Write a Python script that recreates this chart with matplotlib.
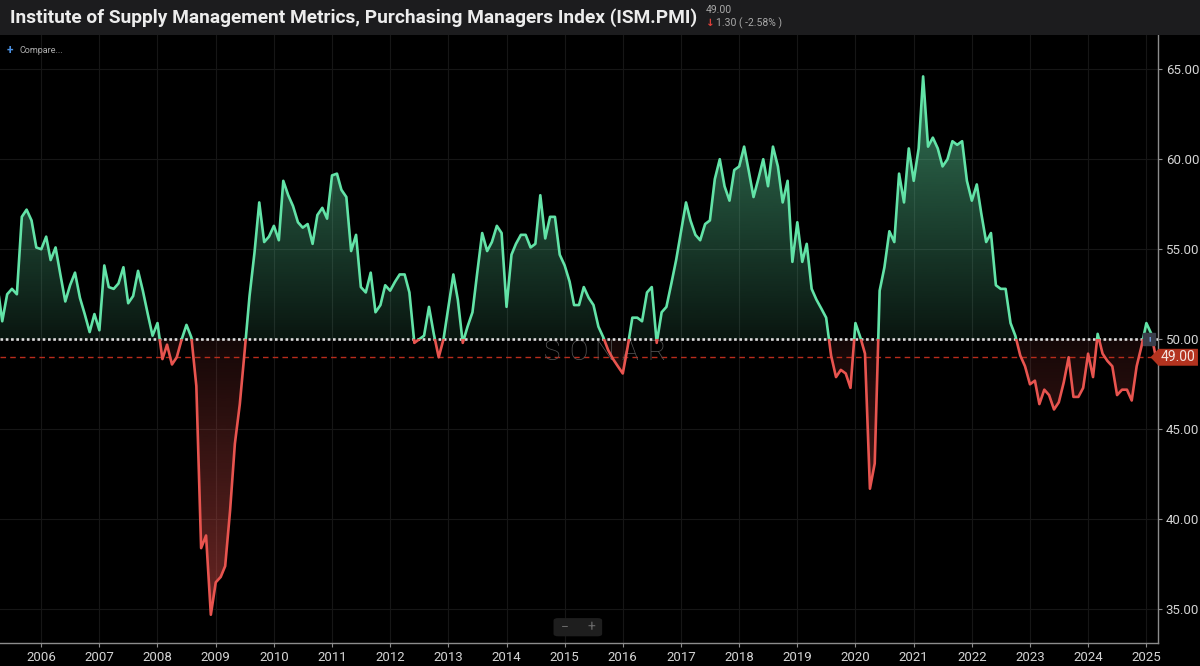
import numpy as np
import pandas as pd
import matplotlib
matplotlib.use("Agg")
import matplotlib.pyplot as plt
import matplotlib.dates as mdates
from matplotlib.path import Path
from matplotlib.patches import Rectangle, Polygon, FancyBboxPatch
from matplotlib.transforms import blended_transform_factory
from matplotlib.ticker import FormatStrFormatter

plt.rcParams["font.family"] = ["Roboto", "DejaVu Sans"]

# ISM PMI, monthly values (Apr 2005 - Mar 2025)
pmi_2005 = [53.0, 51.0, 52.5, 52.8, 52.5, 56.8, 57.2, 56.6, 55.1]
pmi_2006 = [55.0, 55.7, 54.4, 55.1, 53.6, 52.1, 53.0, 53.7, 52.3, 51.4, 50.4, 51.4]
pmi_2007 = [50.5, 54.1, 52.9, 52.8, 53.1, 54.0, 52.0, 52.4, 53.8, 52.7, 51.4, 50.2]
pmi_2008 = [50.9, 48.9, 49.7, 48.6, 49.0, 50.0, 50.8, 50.1, 47.4, 38.4, 39.1, 34.7]
pmi_2009 = [36.5, 36.8, 37.4, 40.5, 44.2, 46.4, 49.3, 52.4, 54.8, 57.6, 55.4, 55.7]
pmi_2010 = [56.3, 55.5, 58.8, 58.0, 57.4, 56.5, 56.2, 56.4, 55.3, 56.9, 57.3, 56.7]
pmi_2011 = [59.1, 59.2, 58.3, 57.9, 54.9, 55.8, 52.9, 52.6, 53.7, 51.5, 51.9, 53.0]
pmi_2012 = [52.7, 53.2, 53.6, 53.6, 52.6, 49.8, 50.0, 50.2, 51.8, 50.3, 49.0, 50.0]
pmi_2013 = [51.8, 53.6, 52.2, 49.8, 50.7, 51.5, 53.7, 55.9, 54.9, 55.4, 56.3, 55.9]
pmi_2014 = [51.8, 54.7, 55.3, 55.8, 55.8, 55.1, 55.3, 58.0, 55.6, 56.8, 56.8, 54.7]
pmi_2015 = [54.1, 53.2, 51.9, 51.9, 52.9, 52.3, 51.9, 50.7, 50.1, 49.4, 48.9, 48.5]
pmi_2016 = [48.1, 49.6, 51.2, 51.2, 51.0, 52.6, 52.9, 49.8, 51.5, 51.8, 53.1, 54.4]
pmi_2017 = [56.0, 57.6, 56.6, 55.8, 55.5, 56.4, 56.6, 58.9, 60.0, 58.5, 57.7, 59.4]
pmi_2018 = [59.6, 60.7, 59.4, 57.9, 58.9, 60.0, 58.5, 60.7, 59.6, 57.6, 58.8, 54.3]
pmi_2019 = [56.5, 54.3, 55.3, 52.8, 52.2, 51.7, 51.2, 49.1, 47.9, 48.3, 48.1, 47.3]
pmi_2020 = [50.9, 50.1, 49.2, 41.7, 43.1, 52.7, 54.0, 56.0, 55.4, 59.2, 57.6, 60.6]
pmi_2021 = [58.8, 60.6, 64.6, 60.7, 61.2, 60.6, 59.6, 60.0, 61.0, 60.8, 61.0, 58.8]
pmi_2022 = [57.7, 58.6, 57.0, 55.4, 55.9, 53.0, 52.8, 52.8, 50.9, 50.2, 49.1, 48.5]
pmi_2023 = [47.5, 47.7, 46.4, 47.2, 46.9, 46.1, 46.5, 47.6, 49.0, 46.8, 46.8, 47.3]
pmi_2024 = [49.2, 47.9, 50.3, 49.2, 48.8, 48.5, 46.9, 47.2, 47.2, 46.6, 48.5, 49.6]
pmi_2025 = [50.9, 50.3, 49.0]

pmi = (pmi_2005 + pmi_2006 + pmi_2007 + pmi_2008 + pmi_2009 + pmi_2010 + pmi_2011
       + pmi_2012 + pmi_2013 + pmi_2014 + pmi_2015 + pmi_2016 + pmi_2017 + pmi_2018
       + pmi_2019 + pmi_2020 + pmi_2021 + pmi_2022 + pmi_2023 + pmi_2024 + pmi_2025)
dates = pd.date_range("2005-04-01", periods=len(pmi), freq="MS")

baseline = 50.0
last_value = 49.0
y_ticks = [35, 40, 45, 50, 55, 60, 65]

title = "Institute of Supply Management Metrics, Purchasing Managers Index (ISM.PMI)"

GREEN = "#62e3a7"
RED = "#e8544f"

x = mdates.date2num(dates)
y = np.array(pmi)

fig = plt.figure(figsize=(12, 6.66), dpi=100)
fig.patch.set_facecolor("black")

# header bar
fig.patches.append(Rectangle((0, 1 - 35 / 666), 1, 35 / 666, transform=fig.transFigure,
                             facecolor="#1c1c1e", edgecolor="none", zorder=0))
fig.text(10 / 1200, 1 - 18 / 666, title, color="#ececec", fontsize=13.8,
         fontweight="bold", va="center", ha="left")
fig.text(706 / 1200, 1 - 10 / 666, "49.00", color="#a8a8a8", fontsize=7.5,
         va="center", ha="left")
fig.text(706 / 1200, 1 - 23 / 666, "\u2193", color="#e0403a", fontsize=7.5,
         va="center", ha="left", family="DejaVu Sans", fontweight="bold")
fig.text(716 / 1200, 1 - 23 / 666, "1.30 ( -2.58% )", color="#a8a8a8", fontsize=7.5,
         va="center", ha="left")

ax = fig.add_axes([0, 23 / 666, 1158 / 1200, 608 / 666])
ax.set_facecolor("black")

x0 = mdates.date2num(pd.Timestamp("2005-04-17"))
x1 = mdates.date2num(pd.Timestamp("2025-03-15"))

# gradient fills, clipped to the area between the line and 50
def gradient_fill(where, color, lo, hi, a_near, a_far, above):
    poly = ax.fill_between(x, y, baseline, where=where, interpolate=True,
                           facecolor="none", edgecolor="none")
    path = Path.make_compound_path(*poly.get_paths())
    rgb = matplotlib.colors.to_rgb(color)
    vals = np.linspace(lo, hi, 256)
    dist = (vals - baseline) if above else (baseline - vals)
    alpha = np.clip(a_near + dist * a_far, 0, 1)
    img = np.zeros((256, 1, 4))
    img[:, 0, :3] = rgb
    img[:, 0, 3] = alpha
    im = ax.imshow(img, extent=[x0, x1, lo, hi], origin="lower", aspect="auto",
                   zorder=1, interpolation="bilinear")
    im.set_clip_path(path, ax.transData)
    poly.remove()

gradient_fill(y >= baseline, GREEN, baseline, 67, 0.10, 0.029, True)
gradient_fill(y <= baseline, RED, 33, baseline, 0.09, 0.024, False)
ax.set_xlim(x0, x1)
ax.set_ylim(33.13, 66.9)

# grid
ax.set_yticks(y_ticks)
ax.xaxis.set_major_locator(mdates.YearLocator())
ax.xaxis.set_major_formatter(mdates.DateFormatter("%Y"))
ax.grid(True, color="#161616", linewidth=0.8, zorder=0)
ax.set_axisbelow(True)

# reference lines
ax.axhline(baseline, color="#dcdcdc", linewidth=1.9, linestyle=(0, (1, 1)),
           dash_capstyle="butt", zorder=3)
ax.axhline(last_value, color="#b82c1c", linewidth=1.0, linestyle=(0, (4, 3)), zorder=2)

# line, green above 50, red below
line_up, = ax.plot(x, y, color=GREEN, linewidth=1.9, zorder=4, solid_joinstyle="round")
line_dn, = ax.plot(x, y, color=RED, linewidth=1.9, zorder=4, solid_joinstyle="round")
clip_up = Rectangle((x0, baseline), x1 - x0, 40, transform=ax.transData)
clip_dn = Rectangle((x0, baseline - 40), x1 - x0, 40, transform=ax.transData)
line_up.set_clip_path(clip_up)
line_dn.set_clip_path(clip_dn)

# watermark, widely spaced letters
for i, ch in enumerate("SONAR"):
    ax.text(0.5216 + (i - 2) * 0.0225, 0.4786, ch, transform=ax.transAxes,
            color="#575757", fontsize=20, fontweight="light", ha="center",
            va="center", zorder=2)

# compare button
ax.text(0.006, 0.975, "+", transform=ax.transAxes, color="#4a90e2", fontsize=8.5,
        ha="left", va="center", fontweight="bold")
ax.text(0.0165, 0.975, "Compare...", transform=ax.transAxes, color="#b0b0b0",
        fontsize=6.5, ha="left", va="center")

# zoom buttons
ax.add_patch(FancyBboxPatch((0.478, 0.011), 0.042, 0.03, transform=ax.transAxes,
                            boxstyle="round,pad=0,rounding_size=0.004",
                            facecolor="#1e1e1e", edgecolor="none", zorder=5))
ax.text(0.488, 0.026, "\u2212", transform=ax.transAxes, color="#6a6a6a", fontsize=10,
        ha="center", va="center", zorder=6)
ax.text(0.511, 0.026, "+", transform=ax.transAxes, color="#6a6a6a", fontsize=10,
        ha="center", va="center", zorder=6)

# event marker near the latest data
mark_x = mdates.date2num(pd.Timestamp("2025-01-20"))
ax.plot([mark_x], [baseline], marker="s", markersize=8, color="#3a3f4b", zorder=6,
        clip_on=False)
ax.text(mark_x, baseline, "!", color="#7aaaf0", fontsize=6, ha="center", va="center",
        zorder=7, fontweight="bold")

# last value label on the axis
bt = blended_transform_factory(ax.transAxes, ax.transData)
ax.add_patch(Polygon([(0.9935, last_value), (1.0005, last_value + 0.47),
                      (1.0345, last_value + 0.47), (1.0345, last_value - 0.47),
                      (1.0005, last_value - 0.47)], closed=True, transform=bt,
                     facecolor="#b3331f", edgecolor="none", clip_on=False, zorder=8))
ax.text(1.0175, last_value, "49.00", transform=bt, color="#f4e4e0", fontsize=10,
        ha="center", va="center", clip_on=False, zorder=9)

# axes styling
ax.yaxis.tick_right()
ax.yaxis.set_major_formatter(FormatStrFormatter("%.2f"))
for side in ["top", "left"]:
    ax.spines[side].set_visible(False)
for side in ["right", "bottom"]:
    ax.spines[side].set_color("#8c8c8c")
    ax.spines[side].set_linewidth(1.0)
ax.tick_params(axis="both", colors="#8c8c8c", labelcolor="#d4d4d4", labelsize=9.5,
               length=3, width=0.8)
ax.tick_params(axis="y", pad=2.5)
ax.tick_params(axis="x", pad=3)

fig.savefig("out.png", dpi=100, facecolor="black")
